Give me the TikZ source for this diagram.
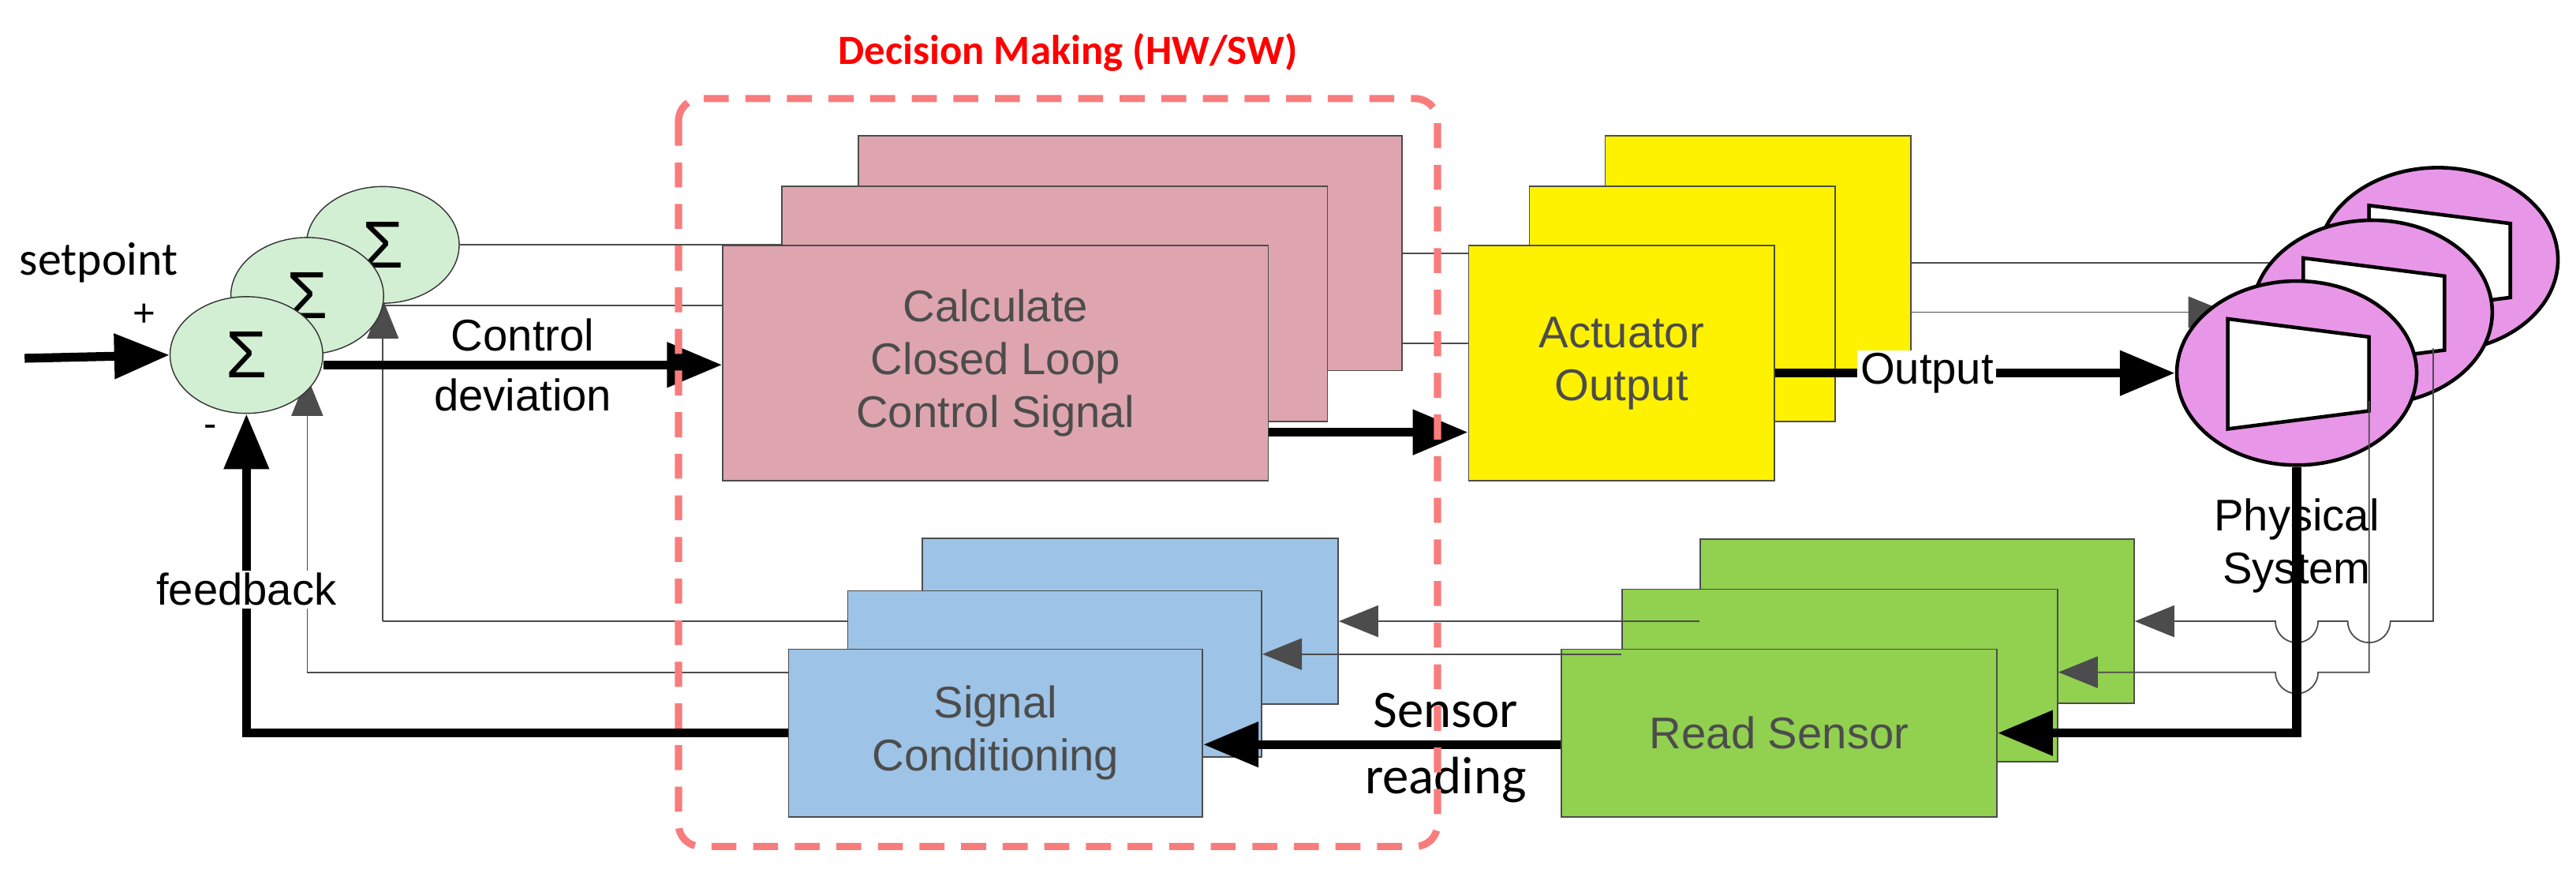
\documentclass[tikz,border=0pt]{standalone}
\usepackage{fontspec}
\setmainfont{Liberation Sans}
\newfontfamily\calfont{Carlito}
\usepackage{xcolor}
\usetikzlibrary{arrows.meta,shapes,positioning}
\definecolor{pinkbox}{HTML}{DEA5AF}
\definecolor{sumgreen}{HTML}{D2EED3}
\definecolor{greenbox}{HTML}{92D050}
\definecolor{bluebox}{HTML}{9DC3E6}
\definecolor{physpink}{HTML}{E896E8}
\definecolor{dashred}{HTML}{F87C7C}
\def\pu{0.2082mm}
\tikzstyle{box} = [draw=black!80, thin, minimum width=252*\pu, minimum height=143*\pu, inner sep=0pt, align=center, font=\fontsize{16}{19}\selectfont]
\tikzstyle{sum} = [ellipse, draw=black!80, fill=sumgreen, minimum width=93*\pu, minimum height=71*\pu, inner sep=0pt, font=\fontsize{24}{24}\selectfont]
\tikzstyle{phys} = [ellipse, draw, line width=1.3pt, fill=physpink, minimum width=146*\pu, minimum height=112*\pu]
\tikzstyle{thin} = [black!70, line width=0.5pt]
\tikzstyle{arrow} = [thin, -{Triangle[length=5mm,width=4mm]}]
\tikzstyle{bold} = [line width=3.2pt, -{Triangle[length=7mm,width=5.5mm]}]

\begin{document}
\begin{tikzpicture}[x=\pu, y=-\pu]
            \useasboundingbox (0,0) rectangle (1568,531);

            % thin wiring behind the blocks
            \draw[thin] (233,149) -- (523,149);
            \draw[thin] (233,186) -- (477,186);
            \draw[arrow] (233,378) -- (233,182);
            \draw[arrow] (187,409) -- (187,229);
            \draw[thin] (233,378) -- (563,378);
            \draw[thin] (187,409) -- (517,409);
            \draw[thin] (854,154) -- (894,154);
            \draw[thin] (808,209) -- (894,209);
            \draw[arrow] (1162,160) -- (1420,160);
            \draw[arrow] (1117,190) -- (1356,190);

            % summing points
            \node[sum] (sum3) at (233,149) {Σ};
            \node[sum] (sum2) at (187,180) {Σ};
            \node[sum] (sum1) at (150,216) {Σ};

            % control blocks
            \node[box, fill=pinkbox, minimum width=331*\pu] (calc3) at (688,154) {};
            \node[box, fill=pinkbox, minimum width=332*\pu] (calc2) at (642,185) {};
            \node[box, fill=pinkbox, minimum width=332*\pu] (calc1) at (606,221)
                {Calculate\\Closed Loop\\Control Signal};
            \node[box, fill=yellow, minimum width=186*\pu] (act3) at (1070,154) {};
            \node[box, fill=yellow, minimum width=186*\pu] (act2) at (1024,185) {};
            \node[box, fill=yellow, minimum width=186*\pu] (act1) at (987,221) {Actuator\\Output};

            % physical system
            \foreach \n/\x/\y in {3/1484/158, 2/1444/190, 1/1398/227} {
                \node[phys] (phys\n) at (\x,\y) {};
                \draw[line width=1.3pt, fill=white] (\x-42,\y-33) -- (\x+44,\y-22)
                    -- (\x+44,\y+23) -- (\x-42,\y+34) -- cycle;
            }
            \node[align=center, font=\fontsize{16}{19}\selectfont] (physlbl) at (1398,332) {Physical\\System};

            % feedback blocks
            \node[box, fill=greenbox, minimum width=264*\pu, minimum height=100*\pu] (sense3) at (1167,378) {};
            \node[box, fill=greenbox, minimum width=265*\pu, minimum height=105*\pu] (sense2) at (1120,411) {};
            \node[box, fill=greenbox, minimum width=265*\pu, minimum height=102*\pu] (sense1) at (1083,446) {Read Sensor};
            \node[box, fill=bluebox, minimum width=253*\pu, minimum height=101*\pu] (cond3) at (688,378) {};
            \node[box, fill=bluebox, minimum width=252*\pu, minimum height=101*\pu] (cond2) at (642,410) {};
            \node[box, fill=bluebox, minimum width=252*\pu, minimum height=102*\pu] (cond1) at (606,446)
                {Signal\\Conditioning};

            % return wiring with jumps
            \draw[arrow] (1481,212) -- (1481,378) -- (1455,378) arc (0:180:13) -- (1411,378)
                arc (0:180:13) -- (sense3.east |- 0,378);
            \draw[arrow] (1442,244) -- (1442,409) -- (1411,409) arc (0:180:13) -- (sense2.east |- 0,409);
            \draw[arrow] (sense3.west |- 0,378) -- (cond3.east |- 0,378);
            \draw[arrow] (sense2.west |- 0,398) -- (cond2.east |- 0,398);

            % main loop
            \draw[bold] (15,218) -- (sum1.west);
            \draw[bold] (sum1.east |- 0,222) -- (calc1.west |- 0,222)
                node[midway, above, font=\fontsize{16}{19}\selectfont] {Control}
                node[midway, below, font=\fontsize{16}{19}\selectfont] {deviation};
            \draw[bold] (calc1.east |- 0,263) -- (act1.west |- 0,263);
            \draw[bold] (act1.east |- 0,227) -- (phys1.west)
                node[pos=0.38, fill=white, inner sep=1pt, font=\fontsize{16}{19}\selectfont] {Output};
            \draw[bold] (phys1.south) -- (1398,446) -- (sense1.east);
            \draw[bold] (sense1.west |- 0,453) -- (cond1.east |- 0,453);
            \node[font=\calfont\fontsize{19}{22}\selectfont, align=center] (sensorlbl) at (880,455) {Sensor\\[2pt]reading};
            \draw[bold] (cond1.west) -- (150,446) -- (sum1.south)
                node[pos=0.45, fill=white, inner sep=1pt, font=\fontsize{16}{19}\selectfont] {feedback};

            % signs and input label
            \node[font=\calfont\fontsize{17}{20}\selectfont] (setpt) at (60,160) {setpoint};
            \node[font=\fontsize{14}{14}\selectfont] (plus) at (88,192) {+};
            \node[font=\fontsize{14}{14}\selectfont] (minus) at (128,262) {-};

            % decision making frame
            \draw[dashred, line width=2.6pt, dash pattern=on 9pt off 6pt, rounded corners=8pt]
                (413,60) rectangle (875,515);
            \node[text=red, font=\calfont\bfseries\fontsize{15}{18}\selectfont] (title) at (650,32) {Decision Making (HW/SW)};
        \end{tikzpicture}
\end{document}
